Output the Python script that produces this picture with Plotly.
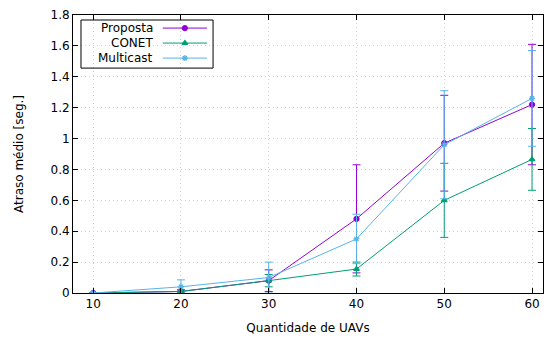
import plotly.graph_objects as go

uavs = [10, 20, 30, 40, 50, 60]
proposta = [0.0, 0.01, 0.08, 0.48, 0.97, 1.22]
proposta_err = [0.0, 0.01, 0.07, 0.35, 0.31, 0.39]
conet = [0.0, 0.01, 0.08, 0.155, 0.60, 0.865]
conet_err = [0.0, 0.01, 0.04, 0.045, 0.24, 0.20]
multicast = [0.0, 0.04, 0.10, 0.35, 0.96, 1.26]
multicast_err = [0.0, 0.045, 0.10, 0.16, 0.35, 0.31]
names = ["Proposta", "CONET", "Multicast"]
colors = ["#9400d3", "#009e73", "#56b4e9"]
symbols = ["circle", "triangle-up", "asterisk-open"]
yticks = [0, 0.2, 0.4, 0.6, 0.8, 1.0, 1.2, 1.4, 1.6, 1.8]
yticklabels = ["0", "0.2", "0.4", "0.6", "0.8", "1", "1.2", "1.4", "1.6", "1.8"]

fig = go.Figure()
for name, ys, errs, col, sym in zip(names, [proposta, conet, multicast],
                                    [proposta_err, conet_err, multicast_err], colors, symbols):
    fig.add_trace(go.Scatter(
        x=uavs, y=ys, mode="lines+markers", name=name,
        line=dict(color=col, width=1),
        marker=dict(color=col, symbol=sym, size=5, line=dict(color=col, width=1.2)),
        error_y=dict(type="data", array=errs, visible=True, color=col, thickness=1, width=4),
        showlegend=False,
    ))

# custom gnuplot-style legend
leg_y = [0.953, 0.899, 0.845]
for name, col, sym, yy in zip(names, colors, symbols, leg_y):
    fig.add_shape(type="line", xref="paper", yref="paper", x0=0.191, x1=0.285, y0=yy, y1=yy,
                  line=dict(color=col, width=1))
    fig.add_trace(go.Scatter(x=[0.238], y=[yy], xaxis="x2", yaxis="y2", mode="markers",
                             marker=dict(color=col, symbol=sym, size=5, line=dict(color=col, width=1.2)),
                             showlegend=False, hoverinfo="skip"))
    fig.add_annotation(x=0.1745, y=yy, xref="paper", yref="paper", text=name, showarrow=False,
                       xanchor="right", yanchor="middle", font=dict(size=12, color="black"))
fig.add_shape(type="rect", xref="paper", yref="paper", x0=0.017, x1=0.298, y0=0.809, y1=0.982,
              line=dict(color="black", width=1), fillcolor="rgba(0,0,0,0)")

axis_common = dict(showline=True, linecolor="black", linewidth=1, mirror="ticks", ticks="inside",
                   ticklen=5, tickcolor="black", showgrid=True, gridcolor="#d0d0d0", griddash="1px,3px",
                   gridwidth=1, zeroline=False, tickfont=dict(size=12, color="black"))

fig.update_layout(
    width=544, height=338,
    margin=dict(l=73, r=1, t=15, b=45),
    plot_bgcolor="white", paper_bgcolor="white",
    font=dict(family="DejaVu Sans", size=12, color="black"),
    xaxis=dict(range=[7.7, 61.25], tickvals=uavs, ticktext=[str(u) for u in uavs],
               title=dict(text="Quantidade de UAVs", standoff=13, font=dict(size=12)), **axis_common),
    yaxis=dict(range=[0, 1.8], tickvals=yticks, ticktext=yticklabels,
               title=dict(text="Atraso médio [seg.]", standoff=24, font=dict(size=12)), **axis_common),
    xaxis2=dict(range=[0, 1], overlaying="x", visible=False, fixedrange=True),
    yaxis2=dict(range=[0, 1], overlaying="y", visible=False, fixedrange=True),
)

fig.write_html("out.html")
